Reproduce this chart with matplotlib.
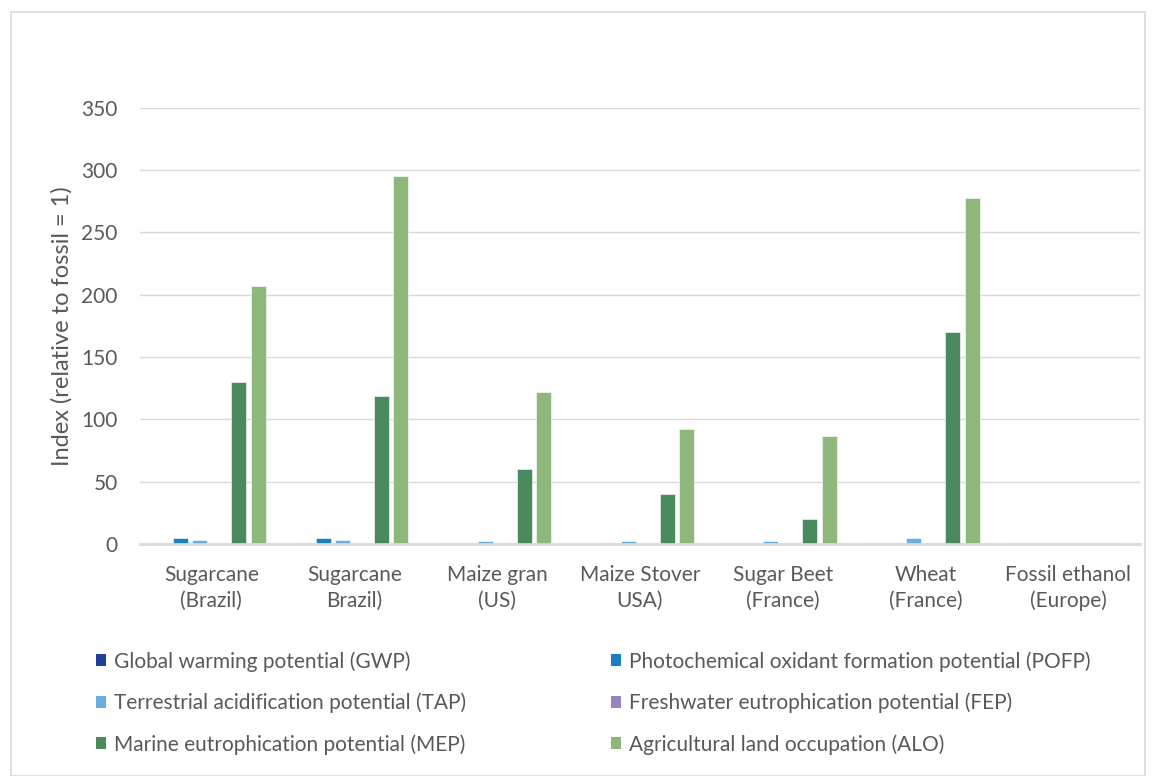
import matplotlib.pyplot as plt
from matplotlib.patches import Patch, Rectangle
import numpy as np

plt.rcParams['font.family'] = ['Lato', 'DejaVu Sans']

categories = ['Sugarcane\n(Brazil)', 'Sugarcane\nBrazil)', 'Maize gran\n(US)', 'Maize Stover\nUSA)',
              'Sugar Beet\n(France)', 'Wheat\n(France)', 'Fossil ethanol\n(Europe)']
series = ['Global warming potential (GWP)', 'Photochemical oxidant formation potential (POFP)',
          'Terrestrial acidification potential (TAP)', 'Freshwater eutrophication potential (FEP)',
          'Marine eutrophication potential (MEP)', 'Agricultural land occupation (ALO)']
gwp = [0.4, 0.4, 0.5, 0.3, 0.5, 0.6, 1]
pofp = [4.5, 4.5, 0.5, 0.4, 0.5, 0.6, 1]
tap = [3.5, 3.5, 2.5, 2.5, 2.5, 4.5, 1]
fep = [0.3, 0.3, 0.4, 0.3, 0.4, 0.5, 1]
mep = [130, 119, 60, 40, 20, 170, 1]
alo = [207, 295, 122, 92, 87, 278, 1]
colors = ['#203F99', '#1A80C1', '#6AAEE0', '#9A84BE', '#4B8A5E', '#8DB77B']

values = [gwp, pofp, tap, fep, mep, alo]

fig = plt.figure(figsize=(11.57, 7.76), dpi=100)
fig.patches.append(Rectangle((0.0095, 0.0), 0.98, 0.985, transform=fig.transFigure,
                             fill=False, edgecolor='#D9D9D9', linewidth=1.2))
ax = fig.add_axes([0.121, 0.299, 0.864, 0.562])

x = np.arange(len(categories))
slot = 0.136
bw = 0.105
for i, (vals, c) in enumerate(zip(values, colors)):
    ax.bar(x + (i - 2.6) * slot, vals, bw, color=c, label=series[i], zorder=2,
           edgecolor='white', linewidth=0.4)

ax.set_xlim(-0.5, len(categories) - 0.5)
ax.set_ylim(0, 350)
ax.set_yticks(range(0, 351, 50))
ax.yaxis.grid(True, color='#D9D9D9', linewidth=1)
ax.set_axisbelow(True)
for s in ['top', 'right', 'left']:
    ax.spines[s].set_visible(False)
ax.spines['bottom'].set_color('#D9D9D9')
ax.spines['bottom'].set_linewidth(2)
ax.spines['bottom'].set_zorder(3)
ax.tick_params(axis='both', length=0, labelsize=15, labelcolor='#595959')
ax.tick_params(axis='y', pad=16)
ax.tick_params(axis='x', pad=15)
ax.set_xticks(x)
ax.set_xticklabels(categories, linespacing=1.35)
ax.set_ylabel('Index (relative to fossil = 1)', fontsize=17, color='#595959', labelpad=6)

handles = [Patch(facecolor=c) for c in colors]
kw = dict(frameon=False, fontsize=15, labelcolor='#595959', handlelength=0.5,
          handleheight=0.5, handletextpad=0.35, labelspacing=1.0, borderpad=0, borderaxespad=0)
fig.legend([handles[0], handles[2], handles[4]], [series[0], series[2], series[4]],
           loc='upper left', bbox_to_anchor=(0.083, 0.161), **kw)
fig.legend([handles[1], handles[3], handles[5]], [series[1], series[3], series[5]],
           loc='upper left', bbox_to_anchor=(0.528, 0.161), **kw)

plt.savefig('out.png')
